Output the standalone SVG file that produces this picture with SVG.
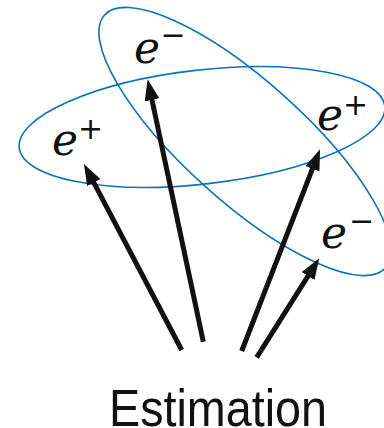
<svg xmlns="http://www.w3.org/2000/svg" width="384" height="428" viewBox="0 0 384 428">
<style>
.ell{fill:none;stroke:#0B72BE;stroke-width:1.6}
.arr{stroke:#111;stroke-width:5;fill:none;marker-end:url(#ah)}
.e{font-family:"DejaVu Serif",serif;font-style:italic;font-size:44px;fill:#111}
.s{font-family:"DejaVu Sans",sans-serif;font-size:30px;fill:#111;text-anchor:middle}
.lbl{font-family:"Liberation Sans",Arial,sans-serif;font-size:52px;fill:#111}
</style>
<defs>
<marker id="ah" markerUnits="userSpaceOnUse" markerWidth="22" markerHeight="16" viewBox="0 -8 22 16" refX="1" refY="0" orient="auto">
<path d="M0,-7.5 L21,0 L0,7.5 Z" fill="#111"/>
</marker>
</defs>
<g id="ellipses">
<ellipse id="ellipse1" class="ell" cx="202" cy="127" rx="184" ry="57" transform="rotate(-6.5 202 127)"/>
<ellipse id="ellipse2" class="ell" cx="245" cy="141.5" rx="189" ry="60" transform="rotate(42 245 141.5)"/>
</g>
<g id="connectors">
<line class="arr" x1="181.7" y1="350" x2="93.3" y2="181.7"/>
<line class="arr" x1="203.3" y1="341.7" x2="151.8" y2="98.9"/>
<line class="arr" x1="241.7" y1="351" x2="312.8" y2="167.9"/>
<line class="arr" x1="256.7" y1="357.3" x2="308.6" y2="275.2"/>
</g>
<g id="node-eplus-left"><text class="e" x="52" y="155">e</text><text class="s" x="90.5" y="139">+</text></g>
<g id="node-eminus-top"><text class="e" x="134" y="63">e</text><text class="s" x="173" y="45">−</text></g>
<g id="node-eplus-right"><text class="e" x="317" y="130">e</text><text class="s" x="355.5" y="115">+</text></g>
<g id="node-eminus-bottom"><text class="e" x="321" y="248">e</text><text class="s" x="361.5" y="231">−</text></g>
<g id="node-estimation"><text class="lbl" x="109" y="425.5" textLength="218" lengthAdjust="spacingAndGlyphs">Estimation</text></g>
</svg>
